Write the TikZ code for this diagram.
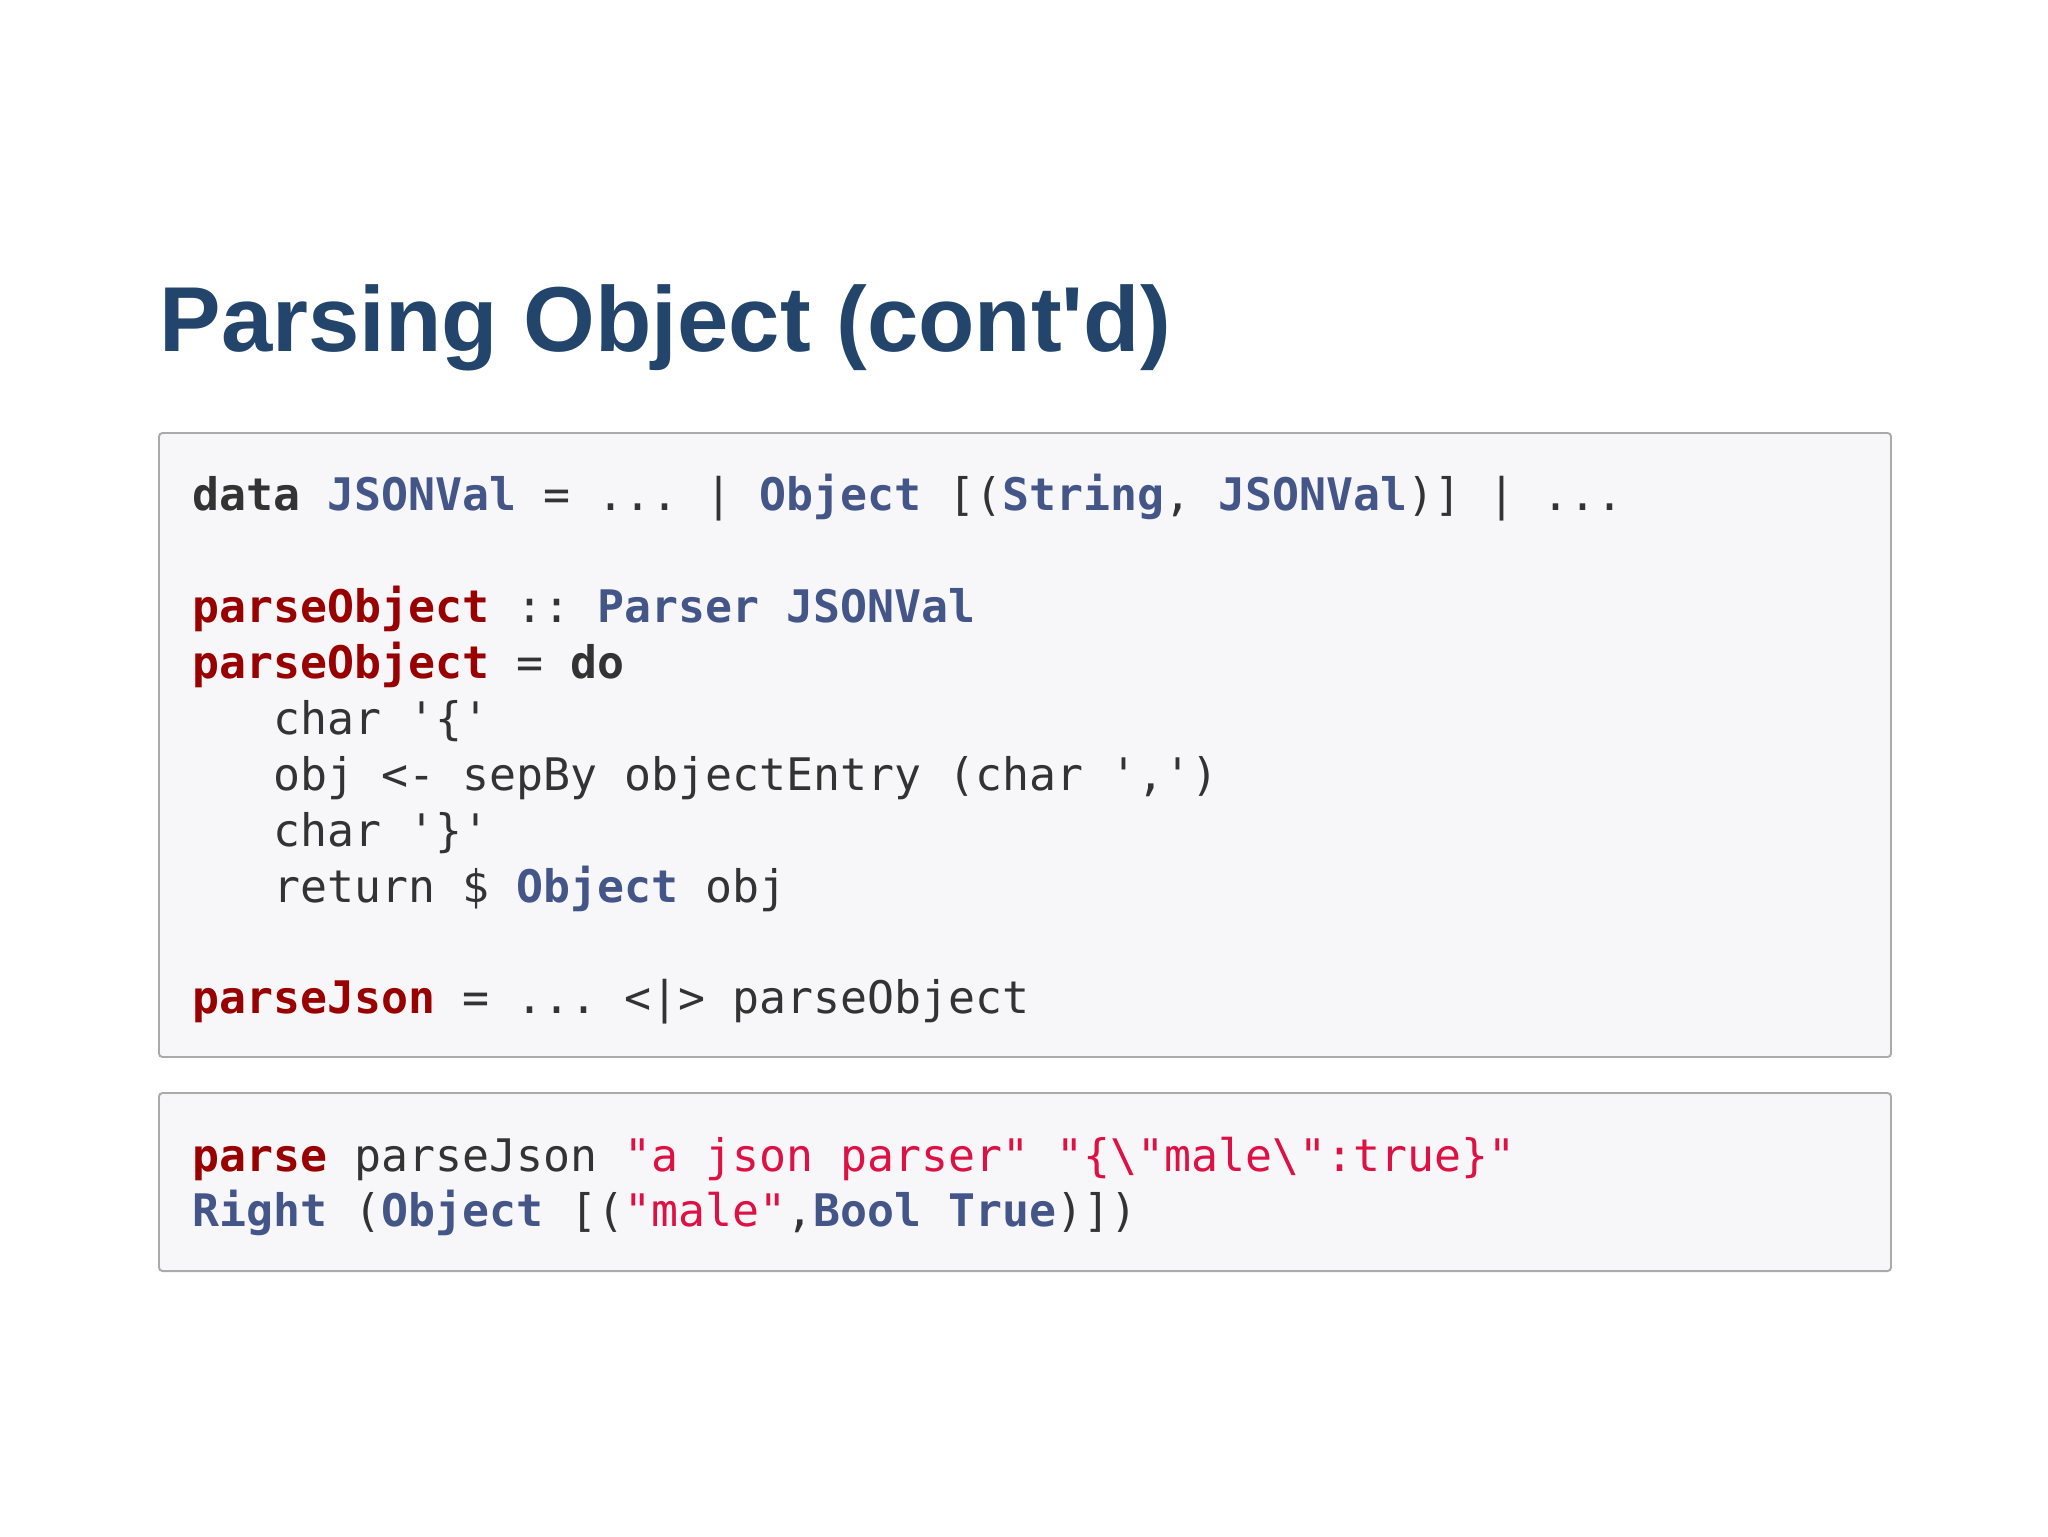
\documentclass[tikz,border=0pt]{standalone}
\usepackage{fontspec}
\setmainfont{Liberation Sans}
\setmonofont{DejaVu Sans Mono}
\usetikzlibrary{positioning}

\definecolor{titleblue}{HTML}{23446B}
\definecolor{boxfill}{HTML}{F7F7F9}
\definecolor{boxline}{HTML}{AAAAAA}
\definecolor{hskwc}{HTML}{333333}
\definecolor{hstyc}{HTML}{445588}
\definecolor{hsfnc}{HTML}{990000}
\definecolor{hsstrc}{HTML}{DD1144}

\newcommand{\hskw}[1]{\textbf{\color{hskwc}#1}}
\newcommand{\hsty}[1]{\textbf{\color{hstyc}#1}}
\newcommand{\hsfn}[1]{\textbf{\color{hsfnc}#1}}
\newcommand{\hsstr}[1]{{\color{hsstrc}#1}}

\begin{document}
\begin{tikzpicture}[x=0.1mm,y=-0.1mm,
  codebox/.style={draw=boxline,fill=boxfill,line width=0.55pt,rounded corners=1pt},
  codeline/.style={anchor=base west,inner sep=0pt,text=hskwc,
    font=\ttfamily\fontsize{12.76}{15}\selectfont\frenchspacing},
  titletext/.style={anchor=base west,inner sep=0pt,text=titleblue,
    font=\bfseries\fontsize{26.25}{30}\selectfont}]
\useasboundingbox[fill=white] (0,0) rectangle (2048,1536);
% title
\node[titletext] (title) at (159,351) {Parsing Object (cont\textquotesingle d)};
% boxes
\draw[codebox] (159,433) rectangle (1891,1057);
\draw[codebox] (159,1093) rectangle (1891,1271);
% first box
\node[codeline] (l1) at (192,510) {\hskw{data} \hsty{JSONVal} = ... | \hsty{Object} [(\hsty{String}, \hsty{JSONVal})] | ...};
\node[codeline] (l2) at (192,622) {\hsfn{parseObject} :: \hsty{Parser} \hsty{JSONVal}};
\node[codeline] (l3) at (192,678) {\hsfn{parseObject} = \hskw{do}};
\node[codeline] (l4) at (273,734) {char '\{'};
\node[codeline] (l5) at (273,790) {obj <- sepBy objectEntry (char ',')};
\node[codeline] (l6) at (273,846) {char '\}'};
\node[codeline] (l7) at (273,902) {return \$ \hsty{Object} obj};
\node[codeline] (l8) at (192,1013) {\hsfn{parseJson} = ... <|> parseObject};
% second box
\node[codeline] (r1) at (192,1171) {\hsfn{parse} parseJson \hsstr{"a json parser"} \hsstr{"\{\textbackslash"male\textbackslash":true\}"}};
\node[codeline] (r2) at (192,1226) {\hsty{Right} (\hsty{Object} [(\hsstr{"male"},\hsty{Bool} \hsty{True})])};
\end{tikzpicture}
\end{document}
